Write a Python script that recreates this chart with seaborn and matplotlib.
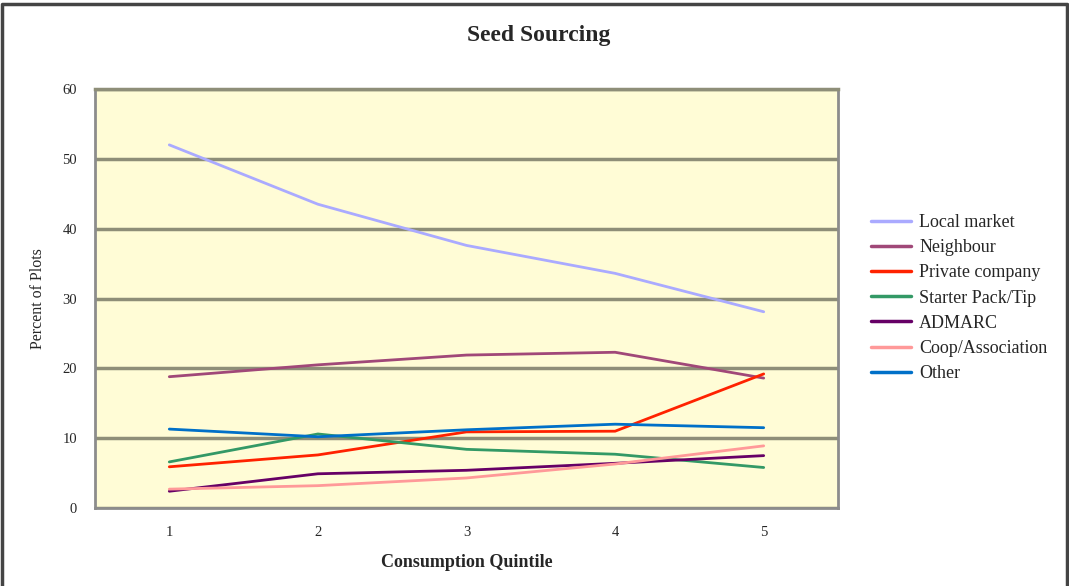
"""Seed sourcing by consumption quintile"""
import pandas as pd
import seaborn as sns
import matplotlib.pyplot as plt
from matplotlib.lines import Line2D
from matplotlib.ticker import FixedLocator

quintiles = [1, 2, 3, 4, 5]
local_market = [52.0, 43.5, 37.6, 33.6, 28.1]
neighbour = [18.8, 20.5, 21.9, 22.3, 18.6]
private_company = [5.9, 7.6, 10.9, 11.0, 19.2]
starter_pack = [6.6, 10.6, 8.4, 7.7, 5.8]
admarc = [2.4, 4.9, 5.4, 6.4, 7.5]
coop = [2.7, 3.2, 4.3, 6.3, 8.9]
other = [11.3, 10.2, 11.2, 12.0, 11.5]

series = {
    "Local market": local_market,
    "Neighbour": neighbour,
    "Private company": private_company,
    "Starter Pack/Tip": starter_pack,
    "ADMARC": admarc,
    "Coop/Association": coop,
    "Other": other,
}
colors = ["#aaaaff", "#a04878", "#ff2200", "#339966", "#660066", "#ff9999", "#0070c8"]

rows = []
for name, vals in series.items():
    for q, v in zip(quintiles, vals):
        rows.append({"Quintile": q, "Percent": v, "Source": name})
df = pd.DataFrame(rows)

sns.set_style("white")
plt.rcParams["font.family"] = ["Liberation Serif", "DejaVu Serif"]

fig = plt.figure(figsize=(10.69, 5.86), dpi=100)
ax = fig.add_axes([95 / 1069, 78 / 586, 743 / 1069, 419 / 586])
ax.set_facecolor("#fffcd6")

sns.lineplot(data=df, x="Quintile", y="Percent", hue="Source",
             palette=colors, linewidth=2, ax=ax, legend=False, zorder=3)

ax.set_xlim(0.5, 5.5)
ax.set_ylim(0, 60)
ax.set_xticks(quintiles)
ax.xaxis.set_minor_locator(FixedLocator([0.5, 1.5, 2.5, 3.5, 4.5, 5.5]))
ax.set_yticks(range(0, 61, 10))
ax.tick_params(axis="x", which="major", length=0, pad=13, labelsize=10.5)
ax.tick_params(axis="x", which="minor", length=5, width=2, color="#8c8c8c", direction="out")
ax.tick_params(axis="y", length=5, width=1.5, color="#8c8c8c", direction="out", pad=8, labelsize=10.5)
ax.yaxis.grid(True, color="#8e8e78", linewidth=2.5, zorder=1)
ax.set_axisbelow(True)

for side in ["left", "bottom", "right"]:
    ax.spines[side].set_color("#8c8c8c")
    ax.spines[side].set_linewidth(2)
ax.spines["top"].set_color("#8e8e78")
ax.spines["top"].set_linewidth(2.5)

ax.set_xlabel("Consumption Quintile", fontsize=13, fontweight="bold", labelpad=11)
ax.set_ylabel("Percent of Plots", fontsize=11.5, labelpad=12)
fig.suptitle("Seed Sourcing", x=0.504, y=0.958, fontsize=17, fontweight="bold")

handles = [Line2D([], [], color=c, linewidth=2.5) for c in colors]
fig.legend(handles, list(series.keys()), loc="upper left",
           bbox_to_anchor=(855 / 1069, 1 - 198 / 586), frameon=False,
           fontsize=13, handlelength=2.2, labelspacing=0.45, handletextpad=0.45)

# outer frame of the chart
fig.add_artist(Line2D([0.002, 0.002, 0.998, 0.998], [0, 0.993, 0.993, 0],
                      transform=fig.transFigure, color="#444444", linewidth=2.5))

plt.savefig("out.png", dpi=100)
plt.close()
